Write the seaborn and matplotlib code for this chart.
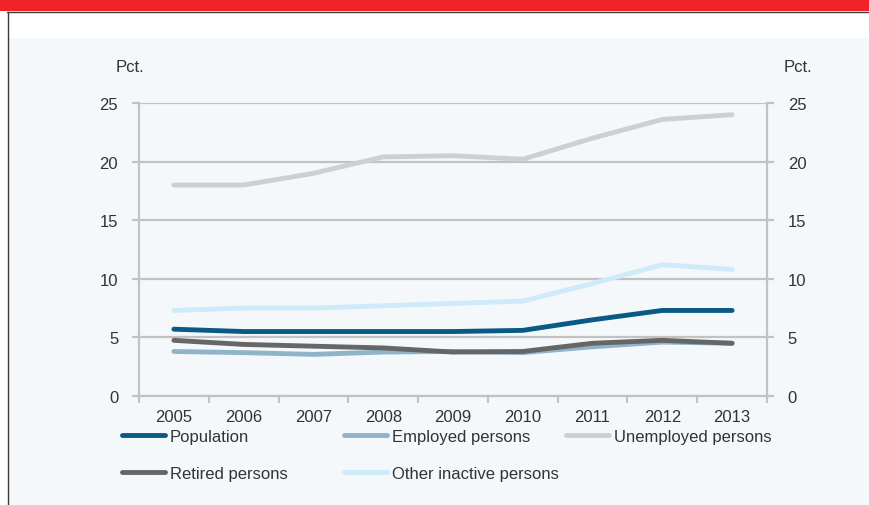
import matplotlib
matplotlib.use("Agg")
import matplotlib.pyplot as plt
from matplotlib.patches import Rectangle
from matplotlib.lines import Line2D
import numpy as np
import pandas as pd
import seaborn as sns

# Share of each group (pct.), 2005-2013
years = [2005, 2006, 2007, 2008, 2009, 2010, 2011, 2012, 2013]
population = [5.7, 5.5, 5.5, 5.5, 5.5, 5.6, 6.5, 7.3, 7.3]
employed = [3.8, 3.7, 3.55, 3.75, 3.8, 3.7, 4.2, 4.6, 4.5]
unemployed = [18.0, 18.0, 19.0, 20.4, 20.5, 20.2, 22.0, 23.6, 24.0]
retired = [4.75, 4.4, 4.25, 4.1, 3.75, 3.8, 4.5, 4.75, 4.5]
other_inactive = [7.3, 7.5, 7.5, 7.7, 7.9, 8.1, 9.6, 11.2, 10.8]

series_names = ["Population", "Employed persons", "Unemployed persons",
                "Retired persons", "Other inactive persons"]
series_values = [population, employed, unemployed, retired, other_inactive]
series_colors = ["#0a5a85", "#8fb4c9", "#cfcfcf", "#666666", "#cfeaf8"]

y_ticks = [0, 5, 10, 15, 20, 25]

df = pd.DataFrame(
    [(y, name, v) for name, vals in zip(series_names, series_values)
     for y, v in zip(years, vals)],
    columns=["Year", "Group", "Pct"],
)

sns.set_style("white")
plt.rcParams["font.family"] = ["Liberation Sans", "DejaVu Sans"]
plt.rcParams["font.size"] = 12

W, H = 869, 506
fig = plt.figure(figsize=(W / 100, H / 100), dpi=100, facecolor="white")

def fx(px):
    return px / W

def fy(py):
    return 1 - py / H

# page decoration: red header band, frame lines and tinted panel
fig.add_artist(Rectangle((0, fy(12)), 1, 12 / H, transform=fig.transFigure,
                         facecolor="#ee2227", edgecolor="none", zorder=-10))
fig.add_artist(Rectangle((fx(8), 0), 1 - fx(8), fy(39), transform=fig.transFigure,
                         facecolor="#f4f8fb", edgecolor="none", zorder=-10))
fig.add_artist(Line2D([fx(7), 1], [fy(12.5), fy(12.5)], transform=fig.transFigure,
                      color="#3a3a3a", lw=1.0, zorder=-5))
fig.add_artist(Line2D([fx(8), fx(8)], [0, fy(12.5)], transform=fig.transFigure,
                      color="#3a3a3a", lw=1.0, zorder=-5))

ax = fig.add_axes([fx(139), fy(397), fx(767) - fx(139), fy(104) - fy(397)])
ax.set_facecolor("none")

sns.lineplot(data=df, x="Year", y="Pct", hue="Group", hue_order=series_names,
             palette=series_colors, linewidth=3.5, ax=ax, legend=True,
             solid_capstyle="round")

grid_col = "#c2c2c2"
ax.set_xlim(years[0] - 0.5, years[-1] + 0.5)
ax.set_ylim(0, 25)
ax.set_yticks(y_ticks)
ax.set_xticks(years)
ax.set_xticks(np.arange(years[0] - 0.5, years[-1] + 1.0, 1.0), minor=True)
ax.set_xlabel("")
ax.set_ylabel("")
ax.grid(axis="y", color=grid_col, lw=1.6)
ax.set_axisbelow(True)

for side in ["left", "right", "bottom"]:
    ax.spines[side].set_visible(True)
    ax.spines[side].set_color(grid_col)
    ax.spines[side].set_linewidth(1.6)
ax.spines["top"].set_visible(False)

ax.tick_params(axis="y", which="major", left=True, right=True, labelleft=True,
               labelright=True, length=5, width=1.6, color=grid_col,
               direction="out", pad=10, labelsize=12, labelcolor="#333333")
ax.tick_params(axis="x", which="major", length=0, pad=9, labelsize=12,
               labelcolor="#333333")
ax.tick_params(axis="x", which="minor", bottom=True, length=5, width=1.6,
               color=grid_col, direction="out")

fig.text(fx(116), fy(68), "Pct.", ha="left", va="center", fontsize=12, color="#333333")
fig.text(fx(784), fy(68), "Pct.", ha="left", va="center", fontsize=12, color="#333333")

handles, labels = ax.get_legend_handles_labels()
ax.get_legend().remove()
lookup = dict(zip(labels, handles))
columns = [["Population", "Retired persons"],
           ["Employed persons", "Other inactive persons"],
           ["Unemployed persons"]]
for col, x0 in zip(columns, [122, 344, 566]):
    fig.legend([lookup[n] for n in col], col, loc="upper left",
               bbox_to_anchor=(fx(x0), fy(430)), frameon=False,
               borderaxespad=0, borderpad=0, handlelength=2.6,
               handletextpad=0.25, labelspacing=1.3, fontsize=12,
               labelcolor="#333333")

fig.savefig("out.png", dpi=100, facecolor=fig.get_facecolor())
